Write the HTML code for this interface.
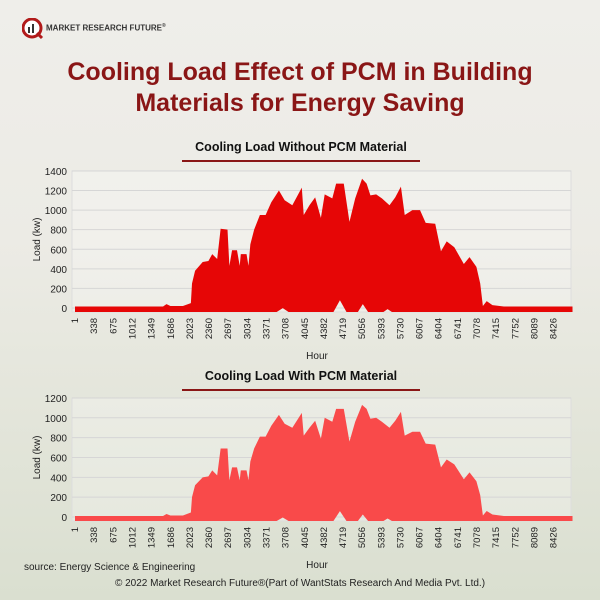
<!DOCTYPE html>
<html><head><meta charset="utf-8"><style>
body{margin:0;width:600px;height:600px;overflow:hidden;font-family:"Liberation Sans",sans-serif;}
#bg{position:absolute;left:0;top:0;width:600px;height:600px;background:linear-gradient(180deg,#efeeea 0%,#ecebe5 40%,#e3e5da 70%,#dadfd0 100%);}
.t{position:absolute;white-space:nowrap;}
</style></head><body>
<div id="bg"></div>
<div class="t" style="left:22px;top:18px;">
<svg width="22" height="22"><circle cx="10" cy="10" r="9" fill="#fff" stroke="#b11a1a" stroke-width="3"/><rect x="6" y="9" width="2" height="6" fill="#333"/><rect x="10" y="6" width="2" height="9" fill="#333"/><line x1="15" y1="15" x2="20" y2="20" stroke="#b11a1a" stroke-width="3"/></svg>
<span style="position:absolute;left:24px;top:5px;font-size:8px;font-weight:bold;color:#333;">MARKET RESEARCH FUTURE<sup style="font-size:5px">®</sup></span></div>
<div class="t" style="left:0;width:600px;top:57px;text-align:center;font-size:25px;font-weight:bold;color:#8a1616;line-height:31px;">Cooling Load Effect of PCM in Building<br>Materials for Energy Saving</div>
<svg id="c" width="600" height="600" style="position:absolute;left:0;top:0"></svg>
<div class="t" style="left:24px;top:562px;font-size:10px;color:#222;">source: Energy Science &amp; Engineering</div>
<div class="t" style="left:0;width:600px;text-align:center;top:578px;font-size:10px;color:#222;">© 2022 Market Research Future®(Part of WantStats Research And Media Pvt. Ltd.)</div>
<script>
const hours=[0,1000,1550,1611,1680,1900,2040,2060,2114,2248,2349,2416,2503,2564,2685,2718,2765,2852,2900,2919,3020,3054,3087,3154,3255,3356,3456,3590,3691,3826,3993,4027,4128,4228,4329,4396,4530,4597,4732,4832,4933,5054,5134,5201,5302,5403,5537,5638,5738,5805,5940,6074,6174,6342,6443,6544,6678,6846,6946,7067,7134,7181,7248,7349,7550,8759];
const loadNoPcm=[15,15,15,40,20,20,50,250,380,470,480,550,500,810,800,430,590,590,430,550,550,430,650,800,950,950,1080,1200,1100,1050,1230,950,1050,1130,920,1160,1120,1270,1270,880,1120,1320,1270,1150,1160,1120,1050,1130,1240,950,1000,1000,870,860,580,680,620,450,520,420,250,20,70,30,15,15];
const loadPcm=[10,10,10,30,15,15,45,200,320,400,410,470,420,690,690,370,500,500,370,470,470,370,560,690,810,810,920,1030,940,900,1050,820,900,970,790,1000,960,1090,1090,760,960,1130,1090,990,1000,960,900,970,1060,820,860,860,740,730,500,580,530,380,450,360,220,15,60,25,10,10];
const minHours=[0,3550,3658,3760,4550,4664,4780,4980,5067,5160,5430,5503,5580,8759];
const minNoPcm=[0,0,40,0,0,120,0,0,80,0,0,30,0,0];
const minPcm=[0,0,35,0,0,100,0,0,65,0,0,25,0,0];
const ticks=[1,338,675,1012,1349,1686,2023,2360,2697,3034,3371,3708,4045,4382,4719,5056,5393,5730,6067,6404,6741,7078,7415,7752,8089,8426];
const yTicksTop=[0,200,400,600,800,1000,1200,1400];
const yTicksBot=[0,200,400,600,800,1000,1200];
const NS='http://www.w3.org/2000/svg';
const svg=document.getElementById('c');
function mk(t,a,p){const e=document.createElementNS(NS,t);for(const k in a)e.setAttribute(k,a[k]);(p||svg).appendChild(e);return e;}
function chart(name,title,titleY,y0,ppk,yTicks,maxV,minV,color){
 const g=mk('g',{});
 
 
 const xs=h=>75+h*0.0568, ys=v=>y0-v*ppk;
 const top=ys(yTicks[yTicks.length-1]);
 const fr=mk('rect',{x:72,y:top,width:499,height:y0+4-top,fill:'rgba(255,255,255,0.25)',stroke:'#ddd'},g);
 
 
 yTicks.forEach(v=>{const l=mk('line',{x1:72,x2:571,y1:ys(v),y2:ys(v),stroke:'#d6d6d6'},g);
  
  
  const t=mk('text',{x:67,y:ys(v)+4,'text-anchor':'end','font-size':10,fill:'#222'},g);t.textContent=v;
  
  });
 let pts=hours.map((h,i)=>xs(h)+','+ys(maxV[i]));
 const base=[];for(let i=minHours.length-1;i>=0;i--)base.push(xs(minHours[i])+','+(ys(minV[i])+4));
 const a=mk('polygon',{points:pts.concat(base).join(' '),fill:color},g);
 
 
 ticks.forEach(h=>{const x=xs(h)+3,y=y0+10;const t=mk('text',{x:x,y:y,transform:`rotate(-90 ${x} ${y})`,'text-anchor':'end','font-size':9.5,fill:'#222'},g);t.textContent=h;
  
  });
 const xt=mk('text',{x:317,y:y0+51,'text-anchor':'middle','font-size':10,fill:'#222'},g);xt.textContent='Hour';
 
 
 const ym=(top+y0)/2;
 const yt=mk('text',{x:40,y:ym,transform:`rotate(-90 40 ${ym})`,'text-anchor':'middle','font-size':10,fill:'#222'},g);yt.textContent='Load (kw)';
 
 
 const tt=mk('text',{x:301,y:titleY,'text-anchor':'middle','font-size':12.5,'font-weight':'bold',fill:'#111'},g);tt.textContent=title;
 
 
 const ul=mk('line',{x1:182,x2:420,y1:titleY+10,y2:titleY+10,stroke:'#8a1616','stroke-width':2},g);
 
 
}
chart('chart-without-pcm','Cooling Load Without PCM Material',151,308,0.0979,yTicksTop,loadNoPcm,minNoPcm,'#e60606');
chart('chart-with-pcm','Cooling Load With PCM Material',380,517,0.0992,yTicksBot,loadPcm,minPcm,'#f94a4a');
</script>
</body></html>
